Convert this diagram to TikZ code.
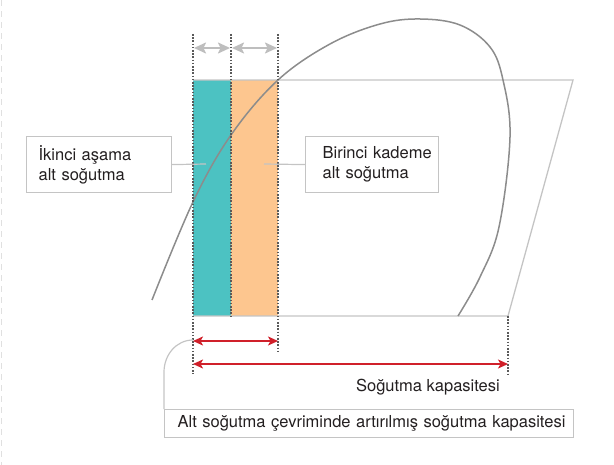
\documentclass[tikz,border=0pt]{standalone}
\usepackage{fontspec}
\setmainfont{TeX Gyre Heros}
\usetikzlibrary{arrows.meta}
\definecolor{teal1}{HTML}{4CC2C2}
\definecolor{peach}{HTML}{FDC68F}
\definecolor{curvegray}{HTML}{8C8C8C}
\definecolor{boxgray}{HTML}{C4C4C4}
\definecolor{dotgray}{HTML}{5A5A5A}
\definecolor{arrgray}{HTML}{BEBEBE}
\definecolor{redarr}{HTML}{D0202A}
\definecolor{txt}{HTML}{231F20}
\tikzset{
  dotline/.style={draw=dotgray,line width=1.3bp,dash pattern=on 1.6bp off 1.6bp},
  frameline/.style={draw=boxgray,line width=1.3bp},
  labelbox/.style={draw=boxgray,line width=1.2bp,minimum height=56bp,align=left,
    font=\fontsize{16.5bp}{20bp}\selectfont,text=txt,anchor=north west,inner sep=0bp},
  leader/.style={draw=boxgray,line width=1.2bp},
  grayarr/.style={draw=arrgray,line width=2bp,{Stealth[length=12bp,width=11bp,inset=2.5bp]}-{Stealth[length=12bp,width=11bp,inset=2.5bp]}},
  redarrow/.style={draw=redarr,line width=1.5bp,{Stealth[length=10bp,width=9bp,inset=2.5bp]}-{Stealth[length=10bp,width=9bp,inset=2.5bp]}},
  txtlabel/.style={font=\fontsize{16.5bp}{20bp}\selectfont,text=txt,inner sep=0bp}
}
\begin{document}
\begin{tikzpicture}[x=1bp,y=-1bp]
\useasboundingbox (0,0) rectangle (614,465);
% faint page edge
\draw[draw=black!12,line width=1bp,dash pattern=on 6bp off 5bp] (1,0) -- (1,465);
% colored bars
\fill[teal1] (193,80) rectangle (231,316);
\fill[peach] (231,80) rectangle (278,316);
% frame
\draw[frameline] (193,80) -- (573,80) -- (508,316) -- (193,316);
% dome curve
\draw[curvegray,line width=1.5bp] plot[smooth,tension=0.6] coordinates {
 (152,300) (193,202) (231,135) (278,80) (330,44) (380,24) (420,19) (460,25) (490,47) (503,80) (510,137) (499,227) (480,277) (458,316)};
% dotted verticals
\coordinate (d1t) at (193,34); \coordinate (d1b) at (193,374);
\coordinate (d2t) at (231,34); \coordinate (d2b) at (231,316);
\coordinate (d3t) at (278,34); \coordinate (d3b) at (278,354);
\coordinate (d4t) at (508,316); \coordinate (d4b) at (508,374);
\draw[dotline] (d1t) -- (d1b);
\draw[dotline] (d2t) -- (d2b);
\draw[dotline] (d3t) -- (d3b);
\draw[dotline] (d4t) -- (d4b);
% gray arrows
\coordinate (g1) at (194,48); \coordinate (g2) at (231,48); \coordinate (g3) at (277,48);
\draw[grayarr] (g1) -- ([xshift=-1bp]g2);
\draw[grayarr] ([xshift=1bp]g2) -- (g3);
% label boxes
\node[labelbox,minimum width=145bp,text width=145bp] (lbox) at (26,136) {\hspace*{12bp}İkinci aşama\\\hspace*{12bp}alt soğutma};
\node[labelbox,minimum width=133bp,text width=133bp] (rbox) at (305,136) {\hspace*{17bp}Birinci kademe\\\hspace*{17bp}alt soğutma};
\coordinate (lend) at (206,164);
\coordinate (rend) at (264,164);
\draw[leader] (lbox.east) -- (lend);
\draw[leader] (rbox.west) -- (rend);
% red arrows
\coordinate (r1a) at (193,341); \coordinate (r1b) at (278,341);
\coordinate (r2a) at (193,364); \coordinate (r2b) at (508,364);
\draw[redarrow] (r1a) -- (r1b);
\draw[redarrow] (r2a) -- (r2b);
\node[txtlabel,anchor=base east] (cap) at (500,391) {Soğutma kapasitesi};
% bottom box
\node[draw=boxgray,line width=1.2bp,minimum width=409bp,text width=409bp,align=left,minimum height=28bp,anchor=north west,
  font=\fontsize{16.5bp}{20bp}\selectfont,text=txt,inner sep=0bp] (bbox) at (164,409)
  {\hspace*{13bp}Alt soğutma çevriminde artırılmış soğutma kapasitesi};
\coordinate (cstart) at (193,340);
\draw[leader] (cstart) to[out=180,in=90] (164,372) -- (bbox.north west);
\end{tikzpicture}
\end{document}
